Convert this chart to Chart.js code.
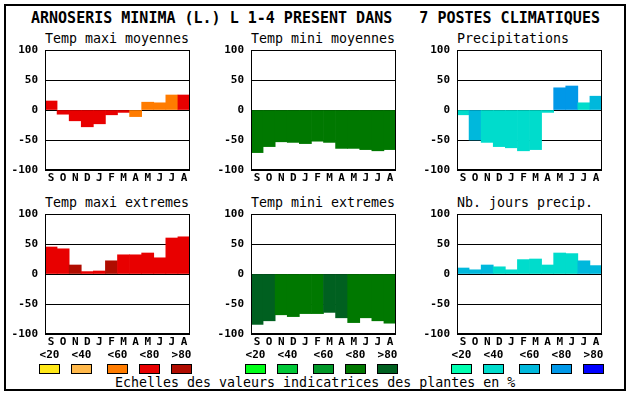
<!DOCTYPE html>
<html>
<head>
<meta charset="utf-8">
<script src="https://cdn.jsdelivr.net/npm/chart.js@4.4.1/dist/chart.umd.min.js"></script>
<style>
  body { margin: 0; background: #fff; width: 630px; height: 394px; position: relative; overflow: hidden; }
  .t { position: absolute; font-family: "DejaVu Sans Mono", monospace; white-space: pre; color: #000; line-height: 1; }
  .sw { position: absolute; width: 21px; height: 10px; box-sizing: border-box; border: 1px solid #000; }
  canvas { position: absolute; }
  #frame { position: absolute; left: 4px; top: 4px; width: 622px; height: 387px; box-sizing: border-box; border: 2px solid #000; }
</style>
</head>
<body>
<div id="frame"></div>
<div class="t" style="left:31px;top:11px;font-size:15px;font-weight:bold;">ARNOSERIS MINIMA (L.) L 1-4 PRESENT DANS   7 POSTES CLIMATIQUES</div>
<div class="t" style="left:115px;top:376px;font-size:13.3px;">Echelles des valeurs indicatrices des plantes en %</div>
<div id="root"></div>
<script>
// months, sept -> aug
const months = ['S', 'O', 'N', 'D', 'J', 'F', 'M', 'A', 'M', 'J', 'J', 'A'];
const yTicks = [-100, -50, 0, 50, 100];
const classLabels = ['<20', '<40', '<60', '<80', '>80'];

// colour scales (classes 0..4)
const tempColors = ['#ffe818', '#ffb84a', '#ff7c00', '#e80000', '#b00c00'];
const greenColors = ['#00ff18', '#00c838', '#009828', '#007800', '#006020'];
const blueColors = ['#00ffb0', '#00dccc', '#00b8dc', '#0098e8', '#0000ff'];

// values and indicator classes per month
const tmaxMoy = [15, -7, -18, -28, -23, -8, -4, -11, 13, 12, 25, 25];
const tmaxMoyCls = [3, 3, 3, 3, 3, 3, 3, 2, 2, 2, 2, 3];
const tminMoy = [-71, -61, -53, -54, -56, -52, -54, -64, -64, -66, -68, -66];
const tminMoyCls = [3, 3, 3, 3, 3, 3, 3, 3, 3, 3, 3, 3];
const precip = [-8, -50, -54, -61, -63, -68, -66, -4, 37, 40, 12, 23];
const precipCls = [1, 2, 1, 1, 1, 1, 1, 1, 3, 3, 1, 2];
const tmaxExt = [45, 42, 15, 4, 5, 22, 32, 32, 35, 27, 60, 62];
const tmaxExtCls = [3, 3, 4, 3, 3, 4, 3, 3, 3, 3, 3, 3];
const tminExt = [-84, -78, -68, -71, -66, -66, -64, -73, -81, -73, -78, -82];
const tminExtCls = [4, 4, 3, 3, 3, 3, 4, 4, 3, 3, 3, 3];
const nbJours = [10, 7, 15, 12, 7, 24, 25, 15, 35, 34, 22, 14];
const nbJoursCls = [2, 2, 2, 1, 1, 1, 1, 1, 1, 1, 2, 2];

const panels = [
    { title: 'Temp maxi moyennes', data: tmaxMoy, cls: tmaxMoyCls, colors: tempColors, x: 45, y: 50 },
    { title: 'Temp mini moyennes', data: tminMoy, cls: tminMoyCls, colors: greenColors, x: 251, y: 50 },
    { title: 'Precipitations', data: precip, cls: precipCls, colors: blueColors, x: 457, y: 50 },
    { title: 'Temp maxi extremes', data: tmaxExt, cls: tmaxExtCls, colors: tempColors, x: 45, y: 214 },
    { title: 'Temp mini extremes', data: tminExt, cls: tminExtCls, colors: greenColors, x: 251, y: 214 },
    { title: 'Nb. jours precip.', data: nbJours, cls: nbJoursCls, colors: blueColors, x: 457, y: 214 }
];

const frame = {
    id: 'frame',
    afterDraw(chart) {
        const a = chart.chartArea, c = chart.ctx;
        c.save();
        c.strokeStyle = '#000';
        c.lineWidth = 1;
        c.strokeRect(Math.round(a.left) + 0.5, Math.round(a.top) + 0.5,
            Math.round(a.right - a.left) - 1, Math.round(a.bottom - a.top) - 1);
        c.restore();
    }
};

const root = document.getElementById('root');
const tickFont = { family: 'DejaVu Sans Mono', size: 11, weight: 'bold' };
const PAD_TOP = 10;

panels.forEach(function (p) {
    const title = document.createElement('div');
    title.className = 't';
    title.style.cssText = 'left:' + p.x + 'px;top:' + (p.y - 18) + 'px;font-size:13.3px;';
    title.textContent = p.title;
    root.appendChild(title);

    const cv = document.createElement('canvas');
    cv.width = 200;
    cv.height = 150;
    cv.style.left = (p.x - 45) + 'px';
    cv.style.top = (p.y - PAD_TOP) + 'px';
    root.appendChild(cv);

    const chart = new Chart(cv.getContext('2d'), {
        type: 'bar',
        data: {
            labels: months,
            datasets: [{
                data: p.data,
                backgroundColor: p.cls.map(function (k) { return p.colors[k]; }),
                borderWidth: 0,
                categoryPercentage: 1,
                barPercentage: 1
            }]
        },
        options: {
            responsive: false,
            animation: false,
            layout: { padding: { top: PAD_TOP, right: 10, left: 0, bottom: 0 } },
            plugins: { legend: { display: false }, tooltip: { enabled: false } },
            scales: {
                x: {
                    grid: { display: false, drawTicks: false },
                    border: { display: false },
                    ticks: { color: '#000', font: tickFont, padding: 2, autoSkip: false, maxRotation: 0 },
                    afterFit: function (s) { s.height = 20; s.paddingLeft = 0; s.paddingRight = 0; }
                },
                y: {
                    min: -100,
                    max: 100,
                    z: 1,
                    afterBuildTicks: function (s) { s.ticks = yTicks.map(function (v) { return { value: v }; }); },
                    grid: { color: '#000', lineWidth: 1, drawTicks: false },
                    border: { display: false },
                    ticks: { color: '#000', font: tickFont, padding: 7 },
                    afterFit: function (s) { s.width = 45; s.paddingTop = 0; s.paddingBottom = 0; }
                }
            }
        },
        plugins: [frame]
    });

    // nudge canvas so the plot box lands where the reference has it
    const a = chart.chartArea;
    cv.style.left = (p.x - a.left) + 'px';
    cv.style.top = (p.y - a.top) + 'px';
});

// legend rows under the bottom panels
const legendSets = [tempColors, greenColors, blueColors];
const legendOffsets = [0, 32, 68, 100, 132];
legendSets.forEach(function (cols, i) {
    const base = 39 + 206 * i;
    cols.forEach(function (col, k) {
        const lab = document.createElement('div');
        lab.className = 't';
        lab.style.cssText = 'left:' + (base + legendOffsets[k]) + 'px;top:349px;width:21px;text-align:center;font-size:11px;font-weight:bold;';
        lab.textContent = classLabels[k];
        root.appendChild(lab);
        const sw = document.createElement('div');
        sw.className = 'sw';
        sw.style.cssText = 'left:' + (base + legendOffsets[k]) + 'px;top:364px;background:' + col + ';';
        root.appendChild(sw);
    });
});
</script>
</body>
</html>
